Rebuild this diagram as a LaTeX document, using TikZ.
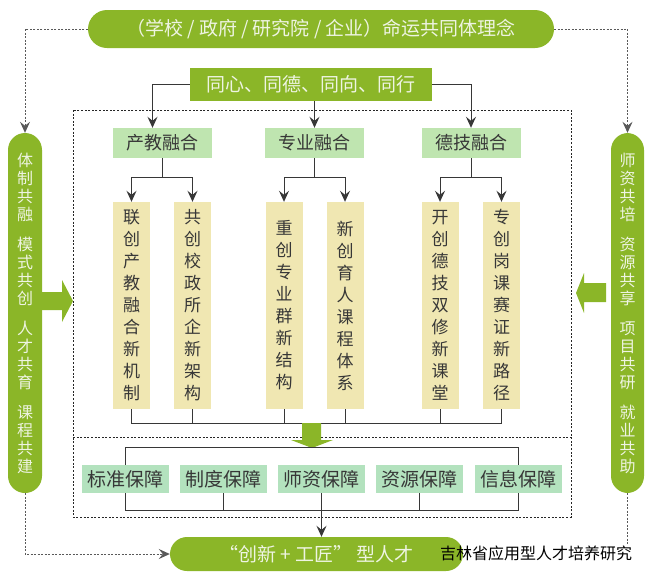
\documentclass[tikz,border=0pt]{standalone}
\usepackage{fontspec}
\setmainfont{Noto Sans CJK SC}
\usetikzlibrary{arrows.meta}
\definecolor{leaf}{RGB}{139,182,40}
\definecolor{sprout}{RGB}{191,229,176}
\definecolor{straw}{RGB}{240,231,178}
\definecolor{mint}{RGB}{179,226,190}
\definecolor{ink}{RGB}{55,55,55}
\definecolor{paper}{RGB}{238,244,226}
\begin{document}
\begin{tikzpicture}[x=1pt,y=-1pt,
  pill/.style={fill=leaf,text=paper,inner sep=0pt},
  side/.style={pill,minimum width=34pt,minimum height=360pt,rounded corners=17pt,align=center,font=\fontsize{16}{18}\selectfont},
  strand/.style={fill=sprout,text=ink,minimum width=99pt,minimum height=30pt,inner sep=0pt,font=\fontsize{18}{18}\selectfont},
  column/.style={fill=straw,text=ink,minimum width=37pt,minimum height=207pt,inner sep=0pt,align=center,font=\fontsize{17}{22}\selectfont},
  guard/.style={fill=mint,text=ink,minimum width=87pt,minimum height=28pt,inner sep=0pt,font=\fontsize{19}{19}\selectfont},
  conn/.style={draw=ink,line width=1pt},
  tip/.style={-{Stealth[length=11pt,width=10pt,inset=4pt]}},
  dotline/.style={draw=black!65,line width=0.9pt,dash pattern=on 2pt off 1.5pt}]
  \useasboundingbox (0,0) rectangle (650,579);
  \draw[black!85,line width=1pt,dash pattern=on 2pt off 1.6pt] (73,110) rectangle (571,517) (73,437) -- (571,437);

  \node[pill,minimum width=466pt,minimum height=38pt,rounded corners=19pt,font=\fontsize{19}{19}\selectfont] (vision) at (321,29) {（学校 / 政府 / 研究院 / 企业）命运共同体理念};
  \node[pill,minimum width=242pt,minimum height=33pt,font=\fontsize{19}{19}\selectfont] (hub) at (311,84.5) {同心、同德、同向、同行};
  \node[side] (lp) at (25,313) {体\\制\\共\\融\\[12pt]模\\式\\共\\创\\[12pt]人\\才\\共\\育\\[12pt]课\\程\\共\\建};
  \node[side,minimum width=33pt] (rp) at (627.5,313) {师\\资\\共\\培\\[12pt]资\\源\\共\\享\\[12pt]项\\目\\共\\研\\[12pt]就\\业\\共\\助};

  \node[strand] (cj) at (162.5,143) {产教融合};
  \node[strand] (zy) at (314.5,143) {专业融合};
  \node[strand] (dj) at (471,143) {德技融合};

  \node[column] (c1) at (131.5,305.5) {联\\创\\产\\教\\融\\合\\新\\机\\制};
  \node[column] (c2) at (192.5,305.5) {共\\创\\校\\政\\所\\企\\新\\架\\构};
  \node[column] (c3) at (284,305.5) {重\\创\\专\\业\\群\\新\\结\\构};
  \node[column] (c4) at (345,305.5) {新\\创\\育\\人\\课\\程\\体\\系};
  \node[column] (c5) at (440,305.5) {开\\创\\德\\技\\双\\修\\新\\课\\堂};
  \node[column] (c6) at (501.5,305.5) {专\\创\\岗\\课\\赛\\证\\新\\路\\径};

  \node[guard] (g1) at (125,479) {标准保障};
  \node[guard] (g2) at (223.5,479) {制度保障};
  \node[guard] (g3) at (321.5,479) {师资保障};
  \node[guard] (g4) at (419.5,479) {资源保障};
  \node[guard] (g5) at (518,479) {信息保障};

  \node[pill,minimum width=293pt,minimum height=34pt,rounded corners=17pt,font=\fontsize{19}{19}\selectfont] (talent) at (316.5,554) {“创新 + 工匠” 型人才};

  \draw[conn,tip] (hub.west) -| ([xshift=-10pt]cj.north);
  \draw[conn,tip] (hub.south -| zy.north) -- (zy.north);
  \draw[conn,tip] (hub.east) -| (dj.north);
  \draw[conn,tip] (cj.south) -- ++(0,19) -| (c1.north);
  \draw[conn,tip] (cj.south) ++(0,19) -| (c2.north);
  \draw[conn,tip] (zy.south) -- ++(0,19) -| (c3.north);
  \draw[conn,tip] (zy.south) ++(0,19) -| (c4.north);
  \draw[conn,tip] (dj.south) -- ++(0,19) -| (c5.north);
  \draw[conn,tip] (dj.south) ++(0,19) -| (c6.north);

  \coordinate (cb) at (0,423);
  \draw[conn] (c1.south) -- (c1.south |- cb) -- (c6.south |- cb) -- (c6.south);
  \foreach \c in {c2,c3,c4,c5}
    \draw[conn] (\c.south) -- (\c.south |- cb);

  \fill[leaf] (302,423) -- (321,423) -- (321,440) -- (333,440) -- (312,448) -- (291,440) -- (302,440) -- cycle;
  \fill[leaf] (40,292) -- (62,292) -- (62,280) -- (73,301) -- (62,322) -- (62,310) -- (40,310) -- cycle;
  \fill[leaf] (606,283) -- (584,283) -- (584,273) -- (576,293) -- (584,313) -- (584,302) -- (606,302) -- cycle;

  \draw[conn] (g1.north) -- ++(0,-17) -| (g5.north);
  \coordinate (gb) at (0,510);
  \draw[conn] (g1.south) -- (g1.south |- gb) -- (g5.south |- gb) -- (g5.south);
  \foreach \g in {g2,g4}
    \draw[conn] (\g.south) -- (\g.south |- gb);
  \draw[conn,tip] (g3.south) -- (g3.south |- talent.north);

  \draw[dotline,tip] (vision.west) -| (lp.north);
  \draw[dotline,tip] (vision.east) -| (rp.north);
  \draw[dotline,tip] (lp.south) |- (talent.west);
  \coordinate (rend) at (627.5,545);
  \draw[dotline] (rp.south) -- (rend);

  \node[black,font=\fontsize{16}{16}\selectfont] (mark) at (536,553) {吉林省应用型人才培养研究};
\end{tikzpicture}
\end{document}
